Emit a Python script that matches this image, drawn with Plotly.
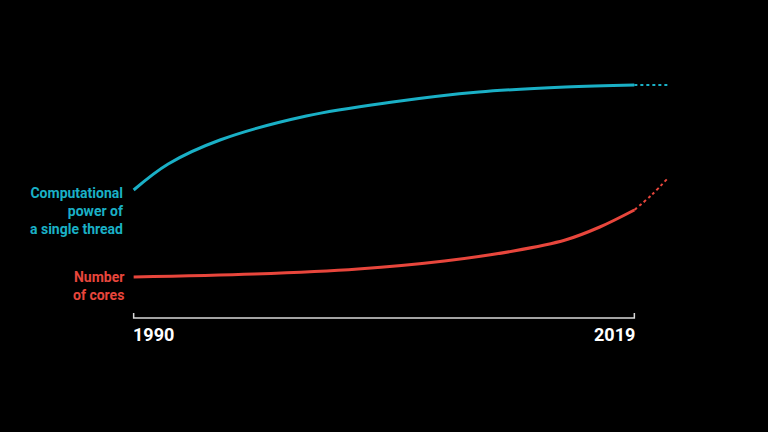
import plotly.graph_objects as go

# Data (arbitrary units above the baseline)
thread_years = [1990, 1992, 1995, 2000, 2005, 2010, 2015, 2019]
thread_vals = [128, 154, 178, 202, 216, 226, 231, 233]
thread_proj_years = [2019, 2021]
thread_proj_vals = [233, 233]

cores_years = [1990, 1997, 2003, 2008, 2012, 2015, 2017, 2019]
cores_vals = [41, 44, 49, 57, 67, 78, 91, 108]
cores_proj_years = [2019, 2020, 2021]
cores_proj_vals = [108, 123, 141]

start_year, end_year = 1990, 2019
tick_labels = ["1990", "2019"]

CYAN = "#1ab0c6"
RED = "#e8463c"
AXIS = "#d9d9d9"

fig = go.Figure()
fig.add_trace(go.Scatter(x=thread_years, y=thread_vals, mode="lines",
                         line=dict(color=CYAN, width=3, shape="spline", smoothing=1.0), hoverinfo="skip"))
fig.add_trace(go.Scatter(x=thread_proj_years, y=thread_proj_vals, mode="lines",
                         line=dict(color=CYAN, width=2, dash="dot"), hoverinfo="skip"))
fig.add_trace(go.Scatter(x=cores_years, y=cores_vals, mode="lines",
                         line=dict(color=RED, width=3, shape="spline", smoothing=1.0), hoverinfo="skip"))
fig.add_trace(go.Scatter(x=cores_proj_years, y=cores_proj_vals, mode="lines",
                         line=dict(color=RED, width=2, dash="dot", shape="spline"), hoverinfo="skip"))
# baseline axis with end ticks
fig.add_trace(go.Scatter(x=[start_year, start_year, end_year, end_year], y=[5, 0, 0, 5], mode="lines",
                         line=dict(color=AXIS, width=1.5), hoverinfo="skip"))

font_lbl = dict(family="Roboto", size=18, color="white")
fig.add_annotation(x=start_year, y=-4, text="<b>" + tick_labels[0] + "</b>", showarrow=False,
                   xanchor="left", yanchor="top", font=font_lbl, xshift=-3)
fig.add_annotation(x=end_year, y=-4, text="<b>" + tick_labels[1] + "</b>", showarrow=False,
                   xanchor="right", yanchor="top", font=font_lbl, xshift=3)

font_side = dict(family="Roboto", size=14)
fig.add_annotation(x=start_year, y=thread_vals[0] - 21, text="<b>Computational<br>power of<br>a single thread</b>",
                   showarrow=False, xanchor="right", yanchor="middle", align="right",
                   font=dict(color=CYAN, **font_side), xshift=-8)
fig.add_annotation(x=start_year, y=cores_vals[0] - 9, text="<b>Number<br>of cores</b>",
                   showarrow=False, xanchor="right", yanchor="middle", align="right",
                   font=dict(color=RED, **font_side), xshift=-8)

px_per_year = 502 / 29
fig.update_layout(
    width=768, height=432,
    margin=dict(l=0, r=0, t=0, b=0),
    paper_bgcolor="black", plot_bgcolor="black",
    showlegend=False,
    xaxis=dict(range=[1990 - 134 / px_per_year, 2019 + 134 / px_per_year], visible=False, fixedrange=True),
    yaxis=dict(range=[-114, 318], visible=False, fixedrange=True),
)
fig.write_html("out.html", config={"displayModeBar": False},
               post_script="document.body.style.margin='0';document.body.style.background='black';")
